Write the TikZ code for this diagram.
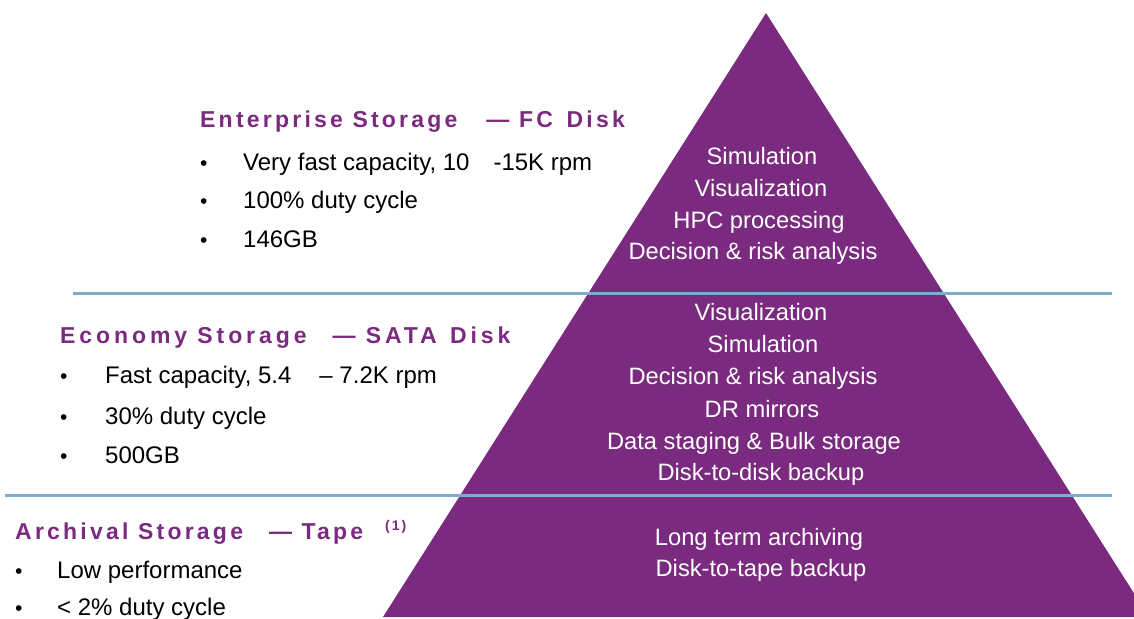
\documentclass[tikz,border=0pt]{standalone}
\usepackage{fontspec}
\setmainfont{Liberation Sans}
\newfontfamily\headfont[LetterSpace=14]{Liberation Sans}
\newfontfamily\wideheadfont[LetterSpace=17]{Liberation Sans}
\definecolor{storepurple}{RGB}{122,43,127}
\definecolor{storeblue}{RGB}{128,172,204}

\tikzset{
  head/.style={anchor=base west, inner sep=0pt, text=storepurple, font=\fontsize{23}{28}\headfont\bfseries},
  item/.style={anchor=base west, inner sep=0pt, font=\fontsize{24}{28}\selectfont},
  bul/.style={anchor=base west, inner sep=0pt, font=\fontsize{21}{28}\selectfont},
  pyrtext/.style={anchor=base, inner sep=0pt, text=white, font=\fontsize{23.7}{28}\selectfont},
  tier/.style={storeblue, line width=3pt}
}

\begin{document}
\begin{tikzpicture}[x=1pt,y=-1pt]
\useasboundingbox (0,0) rectangle (1134,618);
\clip (0,0) rectangle (1134,618);

% Pyramid
\fill[storepurple] (766,13) -- (1149,617) -- (383,617) -- cycle;

% Tier separators
\draw[tier] (73,293) -- (1112,293);
\draw[tier] (5,495) -- (1112,495);

% Pyramid contents
\foreach \x/\y/\txt in {762/164/Simulation, 761/196/Visualization, 759/228/HPC processing, 753/259/Decision \& risk analysis} {
    \node[pyrtext] (top\y) at (\x,\y) {\txt};
}
\foreach \x/\y/\txt in {761/320/Visualization, 763/352/Simulation, 753/384/Decision \& risk analysis, 762/417/DR mirrors, 754/449/Data staging \& Bulk storage, 761/480/Disk-to-disk backup} {
    \node[pyrtext] (mid\y) at (\x,\y) {\txt};
}
\foreach \x/\y/\txt in {759/545/Long term archiving, 761/576/Disk-to-tape backup} {
    \node[pyrtext] (low\y) at (\x,\y) {\txt};
}

% Enterprise tier
\node[head] (ent) at (200,127) {Enterprise Storage\hspace{29pt}— FC\hspace{4pt} Disk};
\foreach \y/\txt in {170/{Very fast capacity, 10\hspace{24pt}-15K rpm}, 208/100\% duty cycle, 247/146GB} {
    \node[bul] (entb\y) at (200,\y) {\textbullet};
    \node[item] (ent\y) at (243,\y) {\txt};
}

% Economy tier
\node[head, font=\fontsize{23}{28}\wideheadfont\bfseries] (eco) at (60,343) {Economy Storage\hspace{26pt}— SATA\hspace{3pt} Disk};
\foreach \y/\txt in {383/{Fast capacity, 5.4\hspace{28pt}– 7.2K rpm}, 424/30\% duty cycle, 463/500GB} {
    \node[bul] (ecob\y) at (60,\y) {\textbullet};
    \node[item] (eco\y) at (105,\y) {\txt};
}

% Archival tier
\node[head] (arc) at (15,539) {Archival Storage\hspace{26pt}— Tape};
\node[anchor=base west, inner sep=0pt, text=storepurple, font=\fontsize{14}{14}\headfont\bfseries] (arcnote) at (385,530) {(1)};
\foreach \y/\txt in {578/Low performance, 615/< 2\% duty cycle} {
    \node[bul] (arcb\y) at (15,\y) {\textbullet};
    \node[item] (arc\y) at (57,\y) {\txt};
}
\end{tikzpicture}
\end{document}
